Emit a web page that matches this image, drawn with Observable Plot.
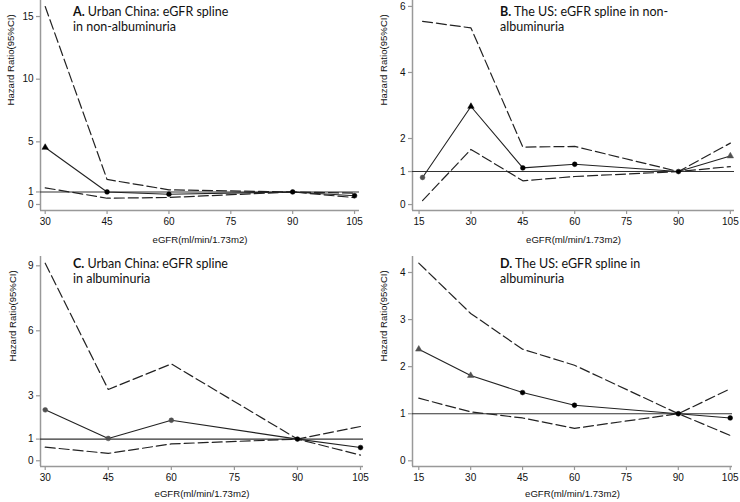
<!DOCTYPE html>
<html><head><meta charset="utf-8">
<script src="https://cdn.jsdelivr.net/npm/d3@7"></script>
<script src="https://cdn.jsdelivr.net/npm/@observablehq/plot@0.6"></script>
<style>
body{margin:0;background:#fff;}
#wrap{position:relative;width:740px;height:502px;overflow:hidden;}
.panel{position:absolute;width:370px;height:251px;}
.panel svg{overflow:visible;font-family:"Liberation Sans",Arial,sans-serif !important;}
.panel svg text{font-family:"Liberation Sans",Arial,sans-serif !important;}
.ttl{position:absolute;font-family:Lato,"Open Sans",sans-serif;font-size:12.5px;line-height:15px;color:#111;white-space:nowrap;}
</style></head>
<body><div id="wrap"></div>
<script>
// Panel A: Urban China, non-albuminuria
const xA = [30, 45, 60, 90, 105];
const hrA = [4.55, 1.0, 0.82, 1.0, 0.7];
const upA = [15.8, 2.0, 1.17, 1.0, 0.9];
const loA = [1.33, 0.5, 0.56, 1.0, 0.55];
const mkA = ["tri", "dot", "dot", "dot", "dot"];
const toneA = ["dark", "dark", "dark", "dark", "dark"];
// Panel B: US, non-albuminuria
const xB = [16, 30, 45, 60, 90, 105];
const hrB = [0.82, 2.97, 1.11, 1.22, 1.0, 1.47];
const upB = [5.55, 5.35, 1.74, 1.76, 1.0, 1.86];
const loB = [0.12, 1.67, 0.72, 0.85, 1.0, 1.15];
const mkB = ["dot", "tri", "dot", "dot", "dot", "tri"];
const toneB = ["mid", "dark", "dark", "dark", "dark", "mid"];
// Panel C: Urban China, albuminuria
const xC = [30, 45, 60, 90, 105];
const hrC = [2.35, 1.03, 1.87, 1.0, 0.61];
const upC = [9.12, 3.29, 4.47, 1.0, 0.26];
const loC = [0.63, 0.34, 0.78, 1.0, 1.58];
const mkC = ["dot", "dot", "dot", "dot", "dot"];
const toneC = ["mid", "mid", "mid", "dark", "dark"];
// Panel D: US, albuminuria
const xD = [15, 30, 45, 60, 90, 105];
const hrD = [2.37, 1.81, 1.45, 1.18, 1.0, 0.91];
const upD = [4.2, 3.13, 2.37, 2.03, 1.0, 0.54];
const loD = [1.33, 1.04, 0.91, 0.69, 1.0, 1.53];
const mkD = ["tri", "tri", "dot", "dot", "dot", "dot"];
const toneD = ["mid", "mid", "dark", "dark", "dark", "dark"];

const ticksX30 = [30, 45, 60, 75, 90, 105];
const ticksX15 = [15, 30, 45, 60, 75, 90, 105];
const ticksYA = [0, 1, 5, 10, 15];
const ticksYB = [0, 1, 2, 4, 6];
const ticksYC = [0, 1, 3, 6, 9];
const ticksYD = [0, 1, 2, 3, 4];

const xTitle = "eGFR(ml/min/1.73m2)";
const yTitle = "Hazard Ratio(95%CI)";
const titles = {
  A: ["A.", " Urban China: eGFR spline", "in non-albuminuria"],
  B: ["B.", " The US: eGFR spline in non-", "albuminuria"],
  C: ["C.", " Urban China: eGFR spline", "in albuminuria"],
  D: ["D.", " The US: eGFR spline in", "albuminuria"]
};

const panels = [
  {key:"A", left:0, top:0, x:xA, hr:hrA, up:upA, lo:loA, mk:mkA, tone:toneA, xt:ticksX30, yt:ticksYA,
   xd:[28.86,106.2], yd:[-0.48,16.28], ml:40, mr:11, mt:0, mb:41, xdy:32, ydx:-30, tl:73, tt:4},
  {key:"B", left:370, top:0, x:xB, hr:hrB, up:upB, lo:loB, mk:mkB, tone:toneB, xt:ticksX15, yt:ticksYB,
   xd:[13.1,106.2], yd:[-0.18,6.18], ml:42, mr:6, mt:0, mb:41, xdy:32, ydx:-29, tl:130, tt:4},
  {key:"C", left:0, top:251, x:xC, hr:hrC, up:upC, lo:loC, mk:mkC, tone:toneC, xt:ticksX30, yt:ticksYC,
   xd:[28.88,105.71], yd:[-0.265,9.43], ml:40, mr:7, mt:5, mb:36, xdy:30, ydx:-28, tl:73, tt:5},
  {key:"D", left:370, top:251, x:xD, hr:hrD, up:upD, lo:loD, mk:mkD, tone:toneD, xt:ticksX15, yt:ticksYD,
   xd:[13.19,105.66], yd:[-0.121,4.34], ml:42, mr:8, mt:5, mb:36, xdy:30, ydx:-29, tl:130, tt:5}
];

const wrap = document.getElementById("wrap");
for (const p of panels) {
  const rows = p.x.map((v, i) => ({x: v, hr: p.hr[i], up: p.up[i], lo: p.lo[i], mk: p.mk[i], tone: p.tone[i]}));
  const chart = Plot.plot({
    width: 370, height: 251,
    marginLeft: p.ml, marginRight: p.mr, marginTop: p.mt, marginBottom: p.mb,
    style: {fontFamily: "Liberation Sans, Arial, sans-serif", fontSize: "10px", background: "transparent", color: "#111", overflow: "visible"},
    x: {domain: p.xd},
    y: {domain: p.yd},
    symbol: {domain: ["tri", "dot"], range: ["triangle", "circle"]},
    color: {domain: ["dark", "mid"], range: ["#000", "#505050"]},
    marks: [
      Plot.axisX({ticks: p.xt, tickFormat: d => String(d), tickSize: 4, tickPadding: 3, stroke: "#999", fill: "#111", label: null, strokeWidth: 1.2}),
      Plot.axisY({ticks: p.yt, tickFormat: d => String(d), tickSize: 4, tickPadding: 3, stroke: "#999", fill: "#111", label: null, strokeWidth: 1.2}),
      Plot.ruleX([p.xd[0]], {stroke: "#999", strokeWidth: 1.5}),
      Plot.ruleY([p.yd[0]], {stroke: "#999", strokeWidth: 1.5}),
      Plot.ruleY([1], {stroke: "#333", strokeWidth: 1.1}),
      Plot.line(rows, {x: "x", y: "up", stroke: "#222", strokeWidth: 1.2, strokeDasharray: "10,4"}),
      Plot.line(rows, {x: "x", y: "lo", stroke: "#222", strokeWidth: 1.2, strokeDasharray: "10,4"}),
      Plot.line(rows, {x: "x", y: "hr", stroke: "#222", strokeWidth: 1.1}),
      Plot.dot(rows, {x: "x", y: "hr", symbol: "mk", fill: "tone", stroke: "tone", strokeWidth: 0.5, r: 2.4}),
      Plot.text([xTitle], {frameAnchor: "bottom", dy: p.xdy, fontSize: 9.6, fill: "#111"}),
      Plot.text([yTitle], {frameAnchor: "left", dx: p.ydx, rotate: -90, fontSize: 9.6, fill: "#111"})
    ]
  });
  const div = document.createElement("div");
  div.className = "panel";
  div.style.left = p.left + "px";
  div.style.top = p.top + "px";
  div.appendChild(chart);
  const t = document.createElement("div");
  t.className = "ttl";
  t.style.left = p.tl + "px";
  t.style.top = p.tt + "px";
  const tt = titles[p.key];
  const b = document.createElement("b"); b.textContent = tt[0];
  t.appendChild(b);
  t.appendChild(document.createTextNode(tt[1]));
  t.appendChild(document.createElement("br"));
  t.appendChild(document.createTextNode(tt[2]));
  div.appendChild(t);
  wrap.appendChild(div);
}
</script>
</body></html>
